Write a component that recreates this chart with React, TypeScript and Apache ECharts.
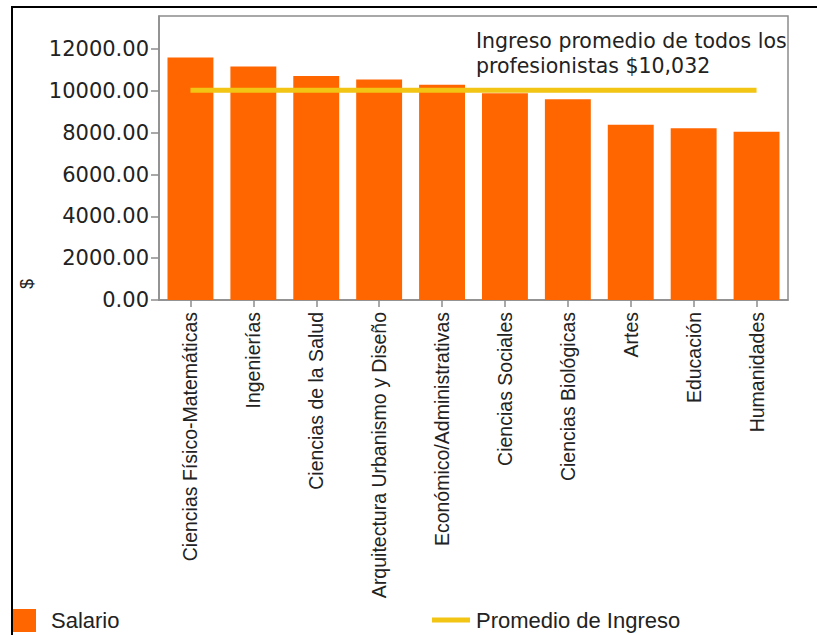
import React, { useEffect, useRef } from "react";
import * as echarts from "echarts";

const categories = [
  "Ciencias Físico-Matemáticas",
  "Ingenierías",
  "Ciencias de la Salud",
  "Arquitectura Urbanismo y Diseño",
  "Económico/Administrativas",
  "Ciencias Sociales",
  "Ciencias Biológicas",
  "Artes",
  "Educación",
  "Humanidades",
];
const salario = [11590, 11160, 10716, 10540, 10287, 9890, 9600, 8376, 8218, 8040];
const promedio = [10032, 10032, 10032, 10032, 10032, 10032, 10032, 10032, 10032, 10032];
const yTicks = [0, 2000, 4000, 6000, 8000, 10000, 12000];
const yMax = 13580;
const annotation = ["Ingreso promedio de todos los", "profesionistas $10,032"];

const BAR = "#ff6600";
const LINE = "#f2c414";
const SANS = "'DejaVu Sans', sans-serif";
const ARIAL = "'Liberation Sans', Arial, sans-serif";

export default function App() {
  const ref = useRef<HTMLDivElement>(null);
  useEffect(() => {
    if (!ref.current) return;
    const chart = echarts.init(ref.current, undefined, { renderer: "svg" });
    chart.setOption({
      animation: false,
      backgroundColor: "#ffffff",
      grid: {
        left: 159,
        top: 16,
        right: 29,
        bottom: 335,
        show: true,
        borderColor: "#8c8c8c",
        borderWidth: 1.5,
        backgroundColor: "#ffffff",
      },
      legend: [
        {
          data: ["Salario"],
          left: 13,
          top: 609,
          icon: "rect",
          itemWidth: 23,
          itemHeight: 23,
          itemGap: 0,
          padding: 0,
          textStyle: { fontFamily: ARIAL, fontSize: 22, color: "#222", padding: [0, 0, 0, 10] },
        },
        {
          data: ["Promedio de Ingreso"],
          left: 432,
          top: 609,
          icon: "rect",
          itemWidth: 38,
          itemHeight: 5,
          padding: 0,
          textStyle: { fontFamily: ARIAL, fontSize: 22, color: "#222", padding: [0, 0, 0, 1] },
        },
      ],
      xAxis: {
        type: "category",
        data: categories,
        axisLine: { show: true, lineStyle: { color: "#8c8c8c", width: 1.5 } },
        axisTick: { show: true, alignWithLabel: true, length: 7, lineStyle: { color: "#8c8c8c", width: 1.5 } },
        axisLabel: {
          rotate: 90,
          interval: 0,
          margin: 12,
          fontFamily: ARIAL,
          fontSize: 19.5,
          color: "#222",
        },
      },
      yAxis: {
        type: "value",
        min: 0,
        max: yMax,
        interval: 2000,
        splitLine: { show: false },
        axisLine: { show: true, lineStyle: { color: "#8c8c8c", width: 1.5 } },
        axisTick: { show: true, length: 8, customValues: yTicks, lineStyle: { color: "#8c8c8c", width: 1.5 } },
        axisLabel: {
          customValues: yTicks,
          margin: 10,
          fontFamily: SANS,
          fontSize: 21,
          color: "#222",
          formatter: (v: number) => v.toFixed(2),
        },
      },
      series: [
        {
          name: "Salario",
          type: "bar",
          data: salario,
          barCategoryGap: "27%",
          itemStyle: { color: BAR },
        },
        {
          name: "Promedio de Ingreso",
          type: "line",
          data: promedio,
          symbol: "none",
          lineStyle: { color: LINE, width: 5 },
          itemStyle: { color: LINE },
        },
      ],
      graphic: [
        {
          type: "line",
          shape: { x1: 11, y1: 7, x2: 817, y2: 7 },
          style: { stroke: "#000", lineWidth: 2 },
        },
        {
          type: "line",
          shape: { x1: 12, y1: 6, x2: 12, y2: 635 },
          style: { stroke: "#000", lineWidth: 2 },
        },
        {
          type: "text",
          x: 476,
          y: 28,
          style: {
            text: annotation.join("\n"),
            font: `20.5px ${SANS}`,
            fill: "#222",
            lineHeight: 25,
            textVerticalAlign: "top",
          },
        },
        {
          type: "text",
          x: 27,
          y: 284,
          rotation: Math.PI / 2,
          style: {
            text: "$",
            font: `18px ${ARIAL}`,
            fill: "#222",
            textAlign: "center",
            textVerticalAlign: "middle",
          },
        },
      ],
    });
    return () => chart.dispose();
  }, []);
  return <div ref={ref} style={{ position: "fixed", left: 0, top: 0, width: 817, height: 635 }} />;
}
